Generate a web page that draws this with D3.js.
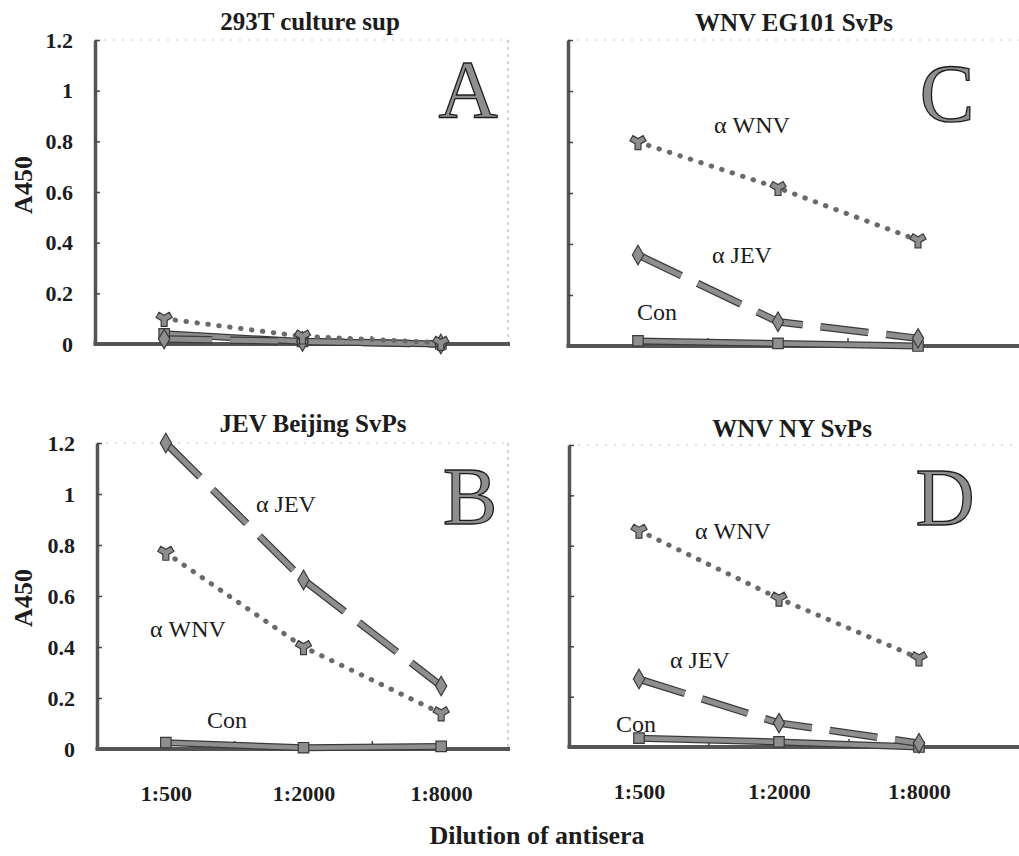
<!DOCTYPE html>
<html>
<head>
<meta charset="utf-8">
<script src="https://cdn.jsdelivr.net/npm/d3@7/dist/d3.min.js"></script>
<style>
  html, body { margin: 0; padding: 0; background: #fff; }
  svg { display: block; }
  text { font-family: "Liberation Serif", "Times New Roman", serif; fill: #1c1c1c; }
</style>
</head>
<body>
<svg id="chart" width="1019" height="856"></svg>
<script>
// Dilution categories and axis ticks
const dilutions = ["1:500", "1:2000", "1:8000"];
const yTicks = [0, 0.2, 0.4, 0.6, 0.8, 1, 1.2];
const yTickLabels = ["0", "0.2", "0.4", "0.6", "0.8", "1", "1.2"];

// Panel titles and letters
const panelTitles = ["293T culture sup", "WNV EG101 SvPs", "JEV Beijing SvPs", "WNV NY SvPs"];
const panelLetters = ["A", "C", "B", "D"];
const seriesNames = ["\u03b1 WNV", "\u03b1 JEV", "Con"];

// A450 readings per dilution
const wnvA = [0.10, 0.03, 0.005];
const jevA = [0.02, 0.01, 0.0];
const conA = [0.04, 0.01, 0.0];

const wnvC = [0.80, 0.62, 0.415];
const jevC = [0.357, 0.095, 0.03];
const conC = [0.02, 0.01, 0.0];

const wnvB = [0.77, 0.40, 0.14];
const jevB = [1.2, 0.663, 0.247];
const conB = [0.025, 0.005, 0.01];

const wnvD = [0.86, 0.59, 0.353];
const jevD = [0.27, 0.095, 0.015];
const conD = [0.035, 0.02, 0.0];

// Panel geometry and annotation placement
const layout = [
  { x0: 95, x1: 510, axisEnd: 510, y0: 344, y1: 40, leftLabels: true, bottomLabels: false,
    titleX: 310, titleY: 30, letterX: 468, letterY: 117, yTitleY: 185,
    wnv: wnvA, jev: jevA, con: conA, labels: [] },
  { x0: 568, x1: 988, axisEnd: 1019, y0: 346, y1: 40, leftLabels: false, bottomLabels: false,
    titleX: 794, titleY: 31, letterX: 947, letterY: 121,
    wnv: wnvC, jev: jevC, con: conC,
    labels: [[752, 133], [742, 263], [657, 320]] },
  { x0: 97, x1: 510, axisEnd: 510, y0: 749, y1: 443, leftLabels: true, bottomLabels: true,
    titleX: 313, titleY: 432, letterX: 470, letterY: 524, yTitleY: 598,
    wnv: wnvB, jev: jevB, con: conB,
    labels: [[188, 637], [286, 512], [227, 728]] },
  { x0: 569, x1: 989, axisEnd: 1019, y0: 747, y1: 445, leftLabels: false, bottomLabels: true,
    titleX: 792, titleY: 437, letterX: 945, letterY: 525,
    wnv: wnvD, jev: jevD, con: conD,
    labels: [[733, 539], [700, 668], [636, 732]] }
];

const svg = d3.select("#chart");
const gray = "#8e8e8e";
const dark = "#3a3a3a";

layout.forEach((p, i) => {
  const g = svg.append("g");
  const x = d3.scalePoint().domain(dilutions).range([p.x0, p.x1]).padding(0.5);
  const band = d3.scaleBand().domain(dilutions).range([p.x0, p.x1]);
  const y = d3.scaleLinear().domain([0, 1.2]).range([p.y0, p.y1]);

  // faint frame along the top (and the right edge on the left-hand panels)
  g.append("line")
    .attr("x1", p.x0).attr("x2", p.axisEnd)
    .attr("y1", y(1.2)).attr("y2", y(1.2))
    .attr("stroke", "#c4c4c4").attr("stroke-width", 1)
    .attr("stroke-dasharray", "2 7");
  if (p.axisEnd < 600) {
    g.append("line")
      .attr("x1", p.axisEnd - 2).attr("x2", p.axisEnd - 2)
      .attr("y1", y(1.2)).attr("y2", y(0))
      .attr("stroke", "#a5a5a5").attr("stroke-width", 1)
      .attr("stroke-dasharray", "3 4");
  }

  // y axis
  const yAxis = d3.axisLeft(y)
    .tickValues(yTicks)
    .tickSizeInner(-5)
    .tickSizeOuter(0)
    .tickPadding(22)
    .tickFormat((d, k) => p.leftLabels ? yTickLabels[k] : "");
  const ya = g.append("g").attr("transform", `translate(${p.x0},0)`).call(yAxis);
  ya.select(".domain").attr("stroke", "#555").attr("stroke-width", 3.5);
  ya.selectAll(".tick line").attr("stroke", "#444").attr("stroke-width", 1.5);
  ya.selectAll(".tick text")
    .style("font-size", "22px").style("font-weight", "bold")
    .style("font-family", "'Liberation Serif', serif").attr("fill", "#1c1c1c");

  // x axis line with ticks at the category boundaries
  g.append("line")
    .attr("x1", p.x0 - 1.5).attr("x2", p.axisEnd)
    .attr("y1", y(0)).attr("y2", y(0))
    .attr("stroke", "#555").attr("stroke-width", 4);
  g.selectAll(".bt").data(dilutions.slice(1)).join("line")
    .attr("x1", d => band(d)).attr("x2", d => band(d))
    .attr("y1", y(0)).attr("y2", y(0) - 8)
    .attr("stroke", "#444").attr("stroke-width", 1.5);

  if (p.bottomLabels) {
    const xa = g.append("g").attr("transform", `translate(0,${y(0)})`)
      .call(d3.axisBottom(x).tickSize(0).tickPadding(36));
    xa.select(".domain").remove();
    xa.selectAll(".tick text")
      .style("font-size", "22px").style("font-weight", "bold")
      .style("font-family", "'Liberation Serif', serif").attr("fill", "#1c1c1c");
  }

  const line = d3.line().x((d, k) => x(dilutions[k])).y(d => y(d));

  // control: solid thick line
  g.append("path").attr("d", line(p.con)).attr("fill", "none")
    .attr("stroke", dark).attr("stroke-width", 7);
  g.append("path").attr("d", line(p.con)).attr("fill", "none")
    .attr("stroke", gray).attr("stroke-width", 4.5);

  // anti-JEV: long dashes
  g.append("path").attr("d", line(p.jev)).attr("fill", "none")
    .attr("stroke", dark).attr("stroke-width", 7.5).attr("stroke-dasharray", "48 18");
  g.append("path").attr("d", line(p.jev)).attr("fill", "none")
    .attr("stroke", gray).attr("stroke-width", 5).attr("stroke-dasharray", "48 18");

  // anti-WNV: round dots
  g.append("path").attr("d", line(p.wnv)).attr("fill", "none")
    .attr("stroke", "#6a6a6a").attr("stroke-width", 5)
    .attr("stroke-linecap", "round").attr("stroke-dasharray", "0.5 10.5");

  // markers
  const marks = [
    { vals: p.con, sym: d3.symbolSquare, size: 110 },
    { vals: p.jev, sym: d3.symbolDiamond, size: 110 },
    { vals: p.wnv, sym: d3.symbolWye, size: 120 }
  ];
  marks.forEach(m => {
    g.selectAll(null).data(m.vals).join("path")
      .attr("d", d3.symbol().type(m.sym).size(m.size))
      .attr("transform", (d, k) => `translate(${x(dilutions[k])},${y(d)})`)
      .attr("fill", gray).attr("stroke", dark).attr("stroke-width", 1.2);
  });

  // series labels
  p.labels.forEach((pos, k) => {
    g.append("text").attr("x", pos[0]).attr("y", pos[1])
      .attr("text-anchor", "middle")
      .style("font-size", "24px")
      .text(seriesNames[k]);
  });

  // panel title
  g.append("text").attr("x", p.titleX).attr("y", p.titleY)
    .attr("text-anchor", "middle")
    .style("font-size", "25px").style("font-weight", "bold")
    .text(panelTitles[i]);

  // panel letter
  g.append("text").attr("x", p.letterX).attr("y", p.letterY)
    .attr("text-anchor", "middle")
    .style("font-size", "82px")
    .attr("stroke", "#1c1c1c").attr("stroke-width", 1.3)
    .style("fill", gray)
    .text(panelLetters[i]);

  // y axis title on the left-hand panels
  if (p.leftLabels) {
    g.append("text")
      .attr("transform", `translate(32,${p.yTitleY}) rotate(-90)`)
      .attr("text-anchor", "middle")
      .style("font-size", "26px").style("font-weight", "bold")
      .text("A450");
  }
});

// shared x axis title
svg.append("text").attr("x", 537).attr("y", 844)
  .attr("text-anchor", "middle")
  .style("font-size", "26px").style("font-weight", "bold")
  .text("Dilution of antisera");
</script>
</body>
</html>
